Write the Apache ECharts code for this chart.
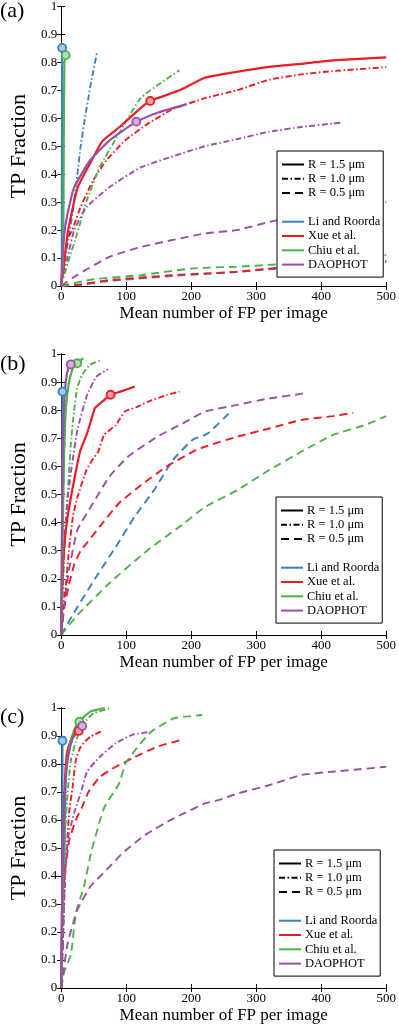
<!DOCTYPE html>
<html>
<head>
<meta charset="utf-8">
<script src="https://cdn.jsdelivr.net/npm/echarts@6/dist/echarts.min.js"></script>
<style>
  html, body { margin: 0; padding: 0; background: #fff; }
  #main { width: 399px; height: 1025px; }
</style>
</head>
<body>
<div id="main"></div>
<script>
// x ticks / y ticks
var xTicks = [0, 100, 200, 300, 400, 500];
var yTicks = [0, 0.1, 0.2, 0.3, 0.4, 0.5, 0.6, 0.7, 0.8, 0.9, 1];
var panelLabels = ['(a)', '(b)', '(c)'];
var radiusNames = ['R = 1.5 μm', 'R = 1.0 μm', 'R = 0.5 μm'];
var methodNames = ['Li and Roorda', 'Xue et al.', 'Chiu et al.', 'DAOPHOT'];

// ---- panel (a) ----
var aLiSolid = [[1, 0], [1.5, 0.852]];
var aLiDashDot = [[0, 0], [5, 0.08], [12, 0.18], [18, 0.27], [25, 0.4], [30, 0.5], [38, 0.62], [42, 0.674], [46, 0.73], [55, 0.833]];
var aLiDash = [[0, 0], [25, 0.003], [74, 0.018], [172, 0.036], [221, 0.043], [270, 0.05], [369, 0.07], [500, 0.09]];
var aXueSolid = [[0, 0], [3, 0.05], [10, 0.19], [25, 0.35], [44, 0.437], [64, 0.52], [89, 0.567], [123, 0.638], [137, 0.662], [182, 0.7], [221, 0.745], [270, 0.766], [320, 0.784], [369, 0.795], [418, 0.807], [500, 0.818]];
var aXueDashDot = [[0, 0], [5, 0.1], [10, 0.17], [17, 0.2], [29.5, 0.28], [49, 0.377], [69, 0.448], [98, 0.52], [133, 0.58], [172, 0.633], [221, 0.672], [270, 0.7], [320, 0.738], [369, 0.757], [418, 0.769], [500, 0.783]];
var aXueDash = [[0, 0], [25, 0.004], [74, 0.021], [172, 0.039], [221, 0.045], [270, 0.051], [369, 0.072], [500, 0.086]];
var aChiuSolid = [[0, 0], [3, 0.1], [4, 0.5], [5, 0.8], [7, 0.826]];
var aChiuDashDot = [[0, 0], [10, 0.08], [24.6, 0.188], [39.4, 0.306], [59, 0.424], [88.6, 0.544], [123, 0.674], [182, 0.772]];
var aChiuDash = [[0, 0], [49, 0.024], [123, 0.039], [202, 0.063], [270, 0.069], [369, 0.083], [500, 0.11]];
var aDaoSolid = [[0, 0], [2, 0.1], [5, 0.19], [10, 0.26], [20, 0.353], [44, 0.448], [74, 0.52], [115.6, 0.588], [148, 0.62], [192, 0.65]];
var aDaoDashDot = [[0, 0], [3, 0.05], [10, 0.104], [20, 0.2], [39, 0.282], [74, 0.353], [123, 0.425], [221, 0.5], [270, 0.525], [320, 0.552], [369, 0.569], [418, 0.581], [433, 0.585]];
var aDaoDash = [[0, 0], [25, 0.04], [74, 0.104], [123, 0.14], [221, 0.188], [270, 0.2], [320, 0.229], [369, 0.253], [418, 0.273], [500, 0.3]];
// circles: Li, Xue, Chiu, DAOPHOT
var aMarks = [[1.5, 0.852], [137, 0.662], [7, 0.826], [115.6, 0.588]];

// ---- panel (b) ----
var bLiSolid = [[1, 0], [2, 0.866]];
var bLiDashDot = [[0, 0], [2, 0.3], [4, 0.6], [6, 0.75], [7, 0.84]];
var bLiDash = [[0, 0], [25, 0.1], [54, 0.207], [84, 0.314], [113, 0.421], [143, 0.516], [172, 0.623], [202, 0.694], [226, 0.718], [258, 0.789]];
var bXueSolid = [[0, 0], [1, 0.1], [3, 0.25], [7, 0.37], [15, 0.49], [25, 0.61], [30, 0.66], [39, 0.712], [47, 0.771], [52, 0.807], [66, 0.836], [76, 0.855], [91, 0.866], [113, 0.884]];
var bXueDashDot = [[0, 0], [3, 0.1], [7, 0.17], [12, 0.3], [18, 0.42], [25, 0.49], [39, 0.587], [50, 0.63], [57, 0.652], [66, 0.712], [84, 0.747], [98, 0.795], [115, 0.81], [133, 0.83], [162, 0.854], [182, 0.866]];
var bXueDash = [[0, 0], [5, 0.1], [12, 0.18], [20, 0.25], [30, 0.3], [39, 0.326], [59, 0.385], [89, 0.469], [123, 0.534], [162, 0.599], [202, 0.652], [221, 0.67], [271, 0.706], [320, 0.735], [369, 0.765], [418, 0.779], [449, 0.791]];
var bChiuSolid = [[0, 0], [2, 0.3], [4, 0.6], [7, 0.8], [12, 0.9], [18, 0.95], [24.6, 0.967], [34, 0.985]];
var bChiuDashDot = [[0, 0], [5, 0.3], [10, 0.5], [14.8, 0.676], [19.7, 0.795], [24.6, 0.878], [32, 0.925], [44, 0.961], [61.5, 0.979]];
var bChiuDash = [[0, 0], [25, 0.071], [74, 0.184], [133, 0.302], [182, 0.385], [221, 0.455], [271, 0.516], [320, 0.587], [369, 0.652], [418, 0.712], [467, 0.747], [500, 0.779]];
var bDaoSolid = [[0, 0], [1, 0.3], [2, 0.6], [4, 0.8], [7, 0.9], [11, 0.95], [14.8, 0.963]];
var bDaoDashDot = [[0, 0], [4, 0.3], [10, 0.49], [17, 0.611], [25, 0.73], [39, 0.848], [54, 0.919], [72, 0.946]];
var bDaoDash = [[0, 0], [5, 0.113], [12, 0.231], [25, 0.374], [49, 0.469], [74, 0.563], [103, 0.635], [148, 0.706], [187, 0.753], [221, 0.795], [271, 0.819], [320, 0.842], [369, 0.858], [379, 0.864]];
var bMarks = [[2, 0.866], [76, 0.855], [24.6, 0.967], [14.8, 0.963]];

// ---- panel (c) ----
var cLiSolid = [[1, 0], [2, 0.883]];
var cLiDashDot = [[0, 0], [2, 0.3], [4, 0.6], [6, 0.75]];
var cLiDash = [[0, 0], [3, 0.17], [5, 0.43], [6, 0.6], [7, 0.7]];
var cXueSolid = [[0, 0], [1, 0.2], [2, 0.4], [4, 0.6], [6, 0.75], [9, 0.84], [14, 0.88], [20, 0.9], [27, 0.918]];
var cXueDashDot = [[0, 0], [3, 0.2], [6, 0.4], [10, 0.55], [12.7, 0.636], [17.7, 0.719], [22.6, 0.814], [30, 0.862], [44.8, 0.898], [64.5, 0.919]];
var cXueDash = [[0, 0], [2, 0.2], [3, 0.31], [5.4, 0.41], [12.7, 0.53], [22.6, 0.6], [32.5, 0.648], [42, 0.7], [60, 0.755], [84, 0.79], [109, 0.82], [148, 0.862], [185, 0.886]];
var cChiuSolid = [[0, 0], [2, 0.3], [4, 0.55], [7.8, 0.767], [12.7, 0.862], [20, 0.921], [27.5, 0.951], [44.8, 0.987], [67, 1.0]];
var cChiuDashDot = [[0, 0], [3, 0.3], [6, 0.55], [10, 0.7], [15, 0.814], [25, 0.898], [35, 0.945], [49.7, 0.981], [77, 1.0]];
var cChiuDash = [[0, 0], [5, 0.06], [15, 0.12], [22.6, 0.267], [35, 0.362], [47, 0.493], [60, 0.6], [67, 0.648], [89, 0.73], [99, 0.802], [116, 0.856], [138.5, 0.915], [173, 0.963], [200, 0.971], [217, 0.975]];
var cDaoSolid = [[0, 0], [1, 0.2], [2, 0.4], [3.5, 0.55], [5.4, 0.671], [7.8, 0.779], [12.7, 0.85], [20, 0.904], [32.5, 0.936]];
var cDaoDashDot = [[0, 0], [3, 0.2], [6, 0.4], [10, 0.53], [15, 0.58], [20, 0.625], [30, 0.696], [40, 0.773], [59.6, 0.826], [84, 0.874], [109, 0.904], [137, 0.915]];
var cDaoDash = [[0, 0], [0.4, 0.005], [10, 0.16], [25, 0.279], [44.8, 0.362], [69.5, 0.421], [94, 0.481], [128.7, 0.546], [173, 0.606], [222, 0.66], [242, 0.671], [272, 0.695], [321, 0.725], [370, 0.761], [420, 0.773], [500, 0.79]];
var cMarks = [[2, 0.883], [27, 0.918], [28, 0.951], [32.5, 0.936]];

var colors = ['#3a7fc0', '#ec1c24', '#4fb149', '#9a4fa6'];
var fills = ['#a9c9ea', '#f6a0a3', '#b2e0ad', '#d3b2da'];
var dashDot = [6, 2.5, 1.5, 2.5];
var dashed = [8, 5];
var fontName = '"Liberation Serif", "Times New Roman", serif';

var myChart = echarts.init(document.getElementById('main'));

var panels = [
  { lines : [[aLiSolid, aLiDashDot, aLiDash], [aXueSolid, aXueDashDot, aXueDash], [aChiuSolid, aChiuDashDot, aChiuDash], [aDaoSolid, aDaoDashDot, aDaoDash]], marks : aMarks },
  { lines : [[bLiSolid, bLiDashDot, bLiDash], [bXueSolid, bXueDashDot, bXueDash], [bChiuSolid, bChiuDashDot, bChiuDash], [bDaoSolid, bDaoDashDot, bDaoDash]], marks : bMarks },
  { lines : [[cLiSolid, cLiDashDot, cLiDash], [cXueSolid, cXueDashDot, cXueDash], [cChiuSolid, cChiuDashDot, cChiuDash], [cDaoSolid, cDaoDashDot, cDaoDash]], marks : cMarks }
];
var gridPos = [
  { left : 50, top : 5, width : 339, height : 281 },
  { left : 50, top : 354, width : 339, height : 281 },
  { left : 50, top : 708, width : 338, height : 280 }
];
var legendPos = [
  { left : 277, top : 151 },
  { left : 276, top : 497 },
  { left : 274, top : 850 }
];
var titleTop = [0, 353, 706];
var styles = ['solid', dashDot, dashed];

var grid = [], xAxis = [], yAxis = [], series = [], legend = [], title = [];

for (var g = 0; g < 3; g++) {
  grid.push(gridPos[g]);
  title.push({
    text : panelLabels[g], left : 0, top : titleTop[g], padding : 0,
    textStyle : { fontFamily : fontName, fontSize : 22, fontWeight : 'normal', color : '#000' }
  });
  // bottom and top x axes
  xAxis.push({
    type : 'value', gridIndex : g, min : xTicks[0], max : xTicks[xTicks.length - 1], interval : 100,
    position : 'bottom',
    axisLine : { lineStyle : { color : '#000', width : 1 } },
    axisTick : { inside : true, length : 4, lineStyle : { color : '#000' } },
    axisLabel : { color : '#000', fontFamily : fontName, fontSize : 13, margin : 4 },
    splitLine : { show : false },
    name : 'Mean number of FP per image', nameLocation : 'middle', nameGap : 19,
    nameTextStyle : { color : '#000', fontFamily : fontName, fontSize : 17 }
  });
  xAxis.push({
    type : 'value', gridIndex : g, min : 0, max : 500, interval : 100, position : 'top',
    axisLine : { lineStyle : { color : '#000', width : 1 } },
    axisTick : { inside : true, length : 4, lineStyle : { color : '#000' } },
    axisLabel : { show : false }, splitLine : { show : false }
  });
  yAxis.push({
    type : 'value', gridIndex : g, min : yTicks[0], max : yTicks[yTicks.length - 1], interval : 0.1,
    position : 'left',
    axisLine : { show : true, lineStyle : { color : '#000', width : 1 } },
    axisTick : { show : true, inside : true, length : 4, lineStyle : { color : '#000' } },
    axisLabel : {
      color : '#000', fontFamily : fontName, fontSize : 13, margin : 4,
      formatter : function(v) { return String(parseFloat(v.toFixed(1))); }
    },
    splitLine : { show : false },
    name : 'TP Fraction', nameLocation : 'middle', nameGap : 24,
    nameTextStyle : { color : '#000', fontFamily : fontName, fontSize : 22 }
  });
  yAxis.push({
    type : 'value', gridIndex : g, min : 0, max : 1, interval : 0.1, position : 'right',
    axisLine : { show : true, lineStyle : { color : '#000', width : 1 } },
    axisTick : { show : true, inside : true, length : 4, lineStyle : { color : '#000' } },
    axisLabel : { show : false }, splitLine : { show : false }
  });

  var p = panels[g];
  // dashed first, solid on top
  for (var s = 2; s >= 0; s--) {
    for (var m = 0; m < 4; m++) {
      series.push({
        name : 'p' + g + '_' + m + '_' + s,
        type : 'line', xAxisIndex : 2 * g, yAxisIndex : 2 * g,
        data : p.lines[m][s], symbol : 'none', silent : true, smooth : 0.15,
        lineStyle : { color : colors[m], width : s == 0 ? 2.2 : 1.9, type : styles[s] },
        z : 3 - s
      });
    }
  }
  for (var k = 0; k < 4; k++) {
    series.push({
      name : 'p' + g + '_mark_' + k,
      type : 'scatter', xAxisIndex : 2 * g, yAxisIndex : 2 * g,
      data : [p.marks[k]], symbol : 'circle', symbolSize : 8, silent : true,
      itemStyle : { color : fills[k], borderColor : colors[k], borderWidth : 1.8, opacity : 1 },
      z : 5
    });
  }

  legend.push({
    orient : 'vertical', left : legendPos[g].left, top : legendPos[g].top,
    data : radiusNames.concat([' ']).concat(methodNames),
    selectedMode : false,
    itemWidth : 22, itemHeight : 10, itemGap : 1.3,
    padding : [7, 3, 6, 4],
    itemStyle : { opacity : 0 },
    borderColor : '#000', borderWidth : 1, backgroundColor : '#fff',
    textStyle : { color : '#000', fontFamily : fontName, fontSize : 12.5, lineHeight : 13, padding : [0, 0, 0, -1] }
  });
}

// legend-only series
for (var r = 0; r < 3; r++) {
  series.push({
    name : radiusNames[r], type : 'line', data : [], symbol : 'none',
    lineStyle : { color : '#000', width : 2, type : styles[r] }, itemStyle : { color : '#000' }
  });
}
series.push({
  name : ' ', type : 'line', data : [], symbol : 'none',
  lineStyle : { color : 'rgba(0,0,0,0)', width : 2 }, itemStyle : { color : 'rgba(0,0,0,0)' }
});
for (var n = 0; n < 4; n++) {
  series.push({
    name : methodNames[n], type : 'line', data : [], symbol : 'none',
    lineStyle : { color : colors[n], width : 2 }, itemStyle : { color : colors[n] }
  });
}

var option = {
  animation : false,
  backgroundColor : '#fff',
  title : title,
  grid : grid,
  xAxis : xAxis,
  yAxis : yAxis,
  legend : legend,
  series : series
};
myChart.setOption(option);
</script>
</body>
</html>
